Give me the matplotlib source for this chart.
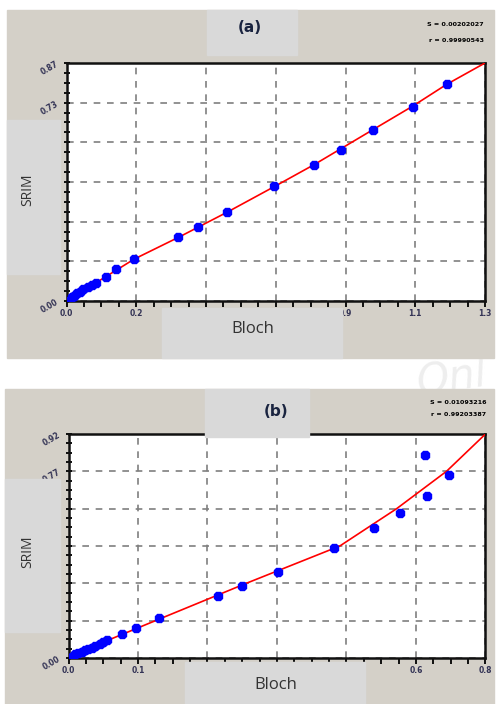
import numpy as np
import matplotlib
matplotlib.use("Agg")
import matplotlib.pyplot as plt
from matplotlib.patches import Rectangle
from matplotlib.ticker import AutoMinorLocator

# panel (a) data
a_x = [0.0056, 0.0162, 0.0242, 0.0317, 0.0419, 0.0522, 0.0677, 0.0783, 0.0907,
       0.1227, 0.1538, 0.2097, 0.347, 0.407, 0.498, 0.645, 0.770, 0.853, 0.953,
       1.075, 1.181]
a_y = [0.0011, 0.0135, 0.0194, 0.0281, 0.034, 0.0439, 0.0523, 0.0585, 0.0647,
       0.0888, 0.1159, 0.1535, 0.235, 0.270, 0.324, 0.420, 0.497, 0.552, 0.625,
       0.710, 0.792]
a_fit_x = [0.0, 0.21, 0.35, 0.498, 0.65, 0.77, 0.953, 1.075, 1.181, 1.3]
a_fit_y = [0.0, 0.153, 0.234, 0.324, 0.421, 0.499, 0.627, 0.712, 0.792, 0.87]
a_xmax, a_ymax = 1.3, 0.87
a_stats = ["S = 0.00202027", "r = 0.99990543"]

# panel (b) data
b_x = [0.0, 0.0058, 0.0117, 0.0176, 0.0237, 0.0297, 0.0356, 0.0417, 0.0477,
       0.0567, 0.0626, 0.0687, 0.0957, 0.1214, 0.1628, 0.2683, 0.3126, 0.376,
       0.478, 0.550, 0.596, 0.641, 0.644, 0.685]
b_y = [0.0, 0.0055, 0.0151, 0.0192, 0.026, 0.0329, 0.037, 0.0425, 0.0507,
       0.0561, 0.0643, 0.0725, 0.0973, 0.122, 0.1655, 0.2559, 0.2957, 0.354,
       0.451, 0.535, 0.594, 0.834, 0.667, 0.752]
b_fit_x = [0.0, 0.07, 0.156, 0.32, 0.488, 0.59, 0.68, 0.75]
b_fit_y = [0.0, 0.072, 0.153, 0.307, 0.46, 0.613, 0.767, 0.92]
b_xmax, b_ymax = 0.75, 0.92
b_stats = ["S = 0.01093216", "r = 0.99203387"]

W, H = 497, 704
BEIGE = "#d4d0c8"
GREY = "#d9d9d9"

fig = plt.figure(figsize=(W / 100, H / 100), dpi=100)
fig.patch.set_facecolor("white")


def frac(l, t, r, b):
    return [l / W, 1 - b / H, (r - l) / W, (b - t) / H]


bg = fig.add_axes([0, 0, 1, 1], zorder=0)
bg.set_xlim(0, W)
bg.set_ylim(H, 0)
bg.axis("off")
bg.text(452, 378, "Onl", fontsize=30, color="#eeeeee", style="italic",
        rotation=8, ha="center", va="center", zorder=1)
bg.add_patch(Rectangle((7, 10), 487, 348, color=BEIGE, zorder=2))
bg.add_patch(Rectangle((5, 389), 489, 315, color=BEIGE, zorder=2))


def panel(box, xs, ys, fx, fy, xmax, ymax):
    ax = fig.add_axes(frac(*box), zorder=1)
    ax.set_facecolor("white")
    ax.grid(True, which="major", color="#7f7f7f", ls=(0, (4, 4)), lw=1.2)
    ax.set_axisbelow(True)
    ax.plot(fx, fy, color="red", lw=1.2, zorder=3)
    ax.plot(xs, ys, ls="none", marker="8", ms=6.8, color="#0000ff", zorder=4)
    ax.set_xlim(0, xmax)
    ax.set_ylim(0, ymax)
    xt = np.linspace(0, xmax, 7)
    yt = np.linspace(0, ymax, 7)
    ax.set_xticks(xt)
    ax.set_xticklabels(["%.1f" % (round(v + 1e-9, 1)) for v in xt])
    ax.set_yticks(yt)
    ax.set_yticklabels(["%.2f" % (round(v + 1e-9, 2)) for v in yt], rotation=30)
    ax.xaxis.set_minor_locator(AutoMinorLocator(4))
    ax.yaxis.set_minor_locator(AutoMinorLocator(4))
    ax.tick_params(axis="x", which="both", direction="out", length=4, width=1.3,
                   labelsize=5.5, pad=2, labelcolor="#333355")
    ax.tick_params(axis="y", which="both", direction="inout", length=5, width=1.3,
                   labelsize=5.5, pad=2, labelcolor="#333355")
    for lab in ax.get_xticklabels() + ax.get_yticklabels():
        lab.set_fontweight("bold")
    for s in ax.spines.values():
        s.set_linewidth(1.8)
        s.set_color("#111111")
    return ax


panel((66.5, 63, 485, 301), a_x, a_y, a_fit_x, a_fit_y, a_xmax, a_ymax)
panel((68.5, 434, 485.5, 658), b_x, b_y, b_fit_x, b_fit_y, b_xmax, b_ymax)

top = fig.add_axes([0, 0, 1, 1], zorder=5)
top.set_xlim(0, W)
top.set_ylim(H, 0)
top.axis("off")
top.patch.set_alpha(0)

# panel (a) labels
top.add_patch(Rectangle((207, 10), 90, 45, color=GREY))
top.text(250, 28, "(a)", fontsize=11, fontweight="bold", color="#1a2440",
         ha="center", va="center")
top.add_patch(Rectangle((7, 120), 53, 154, color=GREY))
top.text(28, 190, "SRIM", fontsize=10, rotation=90, color="#333333",
         ha="center", va="center", family="Open Sans")
top.add_patch(Rectangle((162, 308), 180, 50, color=GREY))
top.text(253, 329, "Bloch", fontsize=12, color="#333333",
         ha="center", va="center", family="Open Sans")
top.text(484, 25, a_stats[0], fontsize=4.6, fontweight="bold", ha="right", va="center")
top.text(484, 40, a_stats[1], fontsize=4.6, fontweight="bold", ha="right", va="center")

# panel (b) labels
top.add_patch(Rectangle((205, 389), 104, 48, color=GREY))
top.text(276, 411, "(b)", fontsize=11, fontweight="bold", color="#1a2440",
         ha="center", va="center")
top.add_patch(Rectangle((5, 479), 55, 153, color=GREY))
top.text(28, 552, "SRIM", fontsize=10, rotation=90, color="#333333",
         ha="center", va="center", family="Open Sans")
top.add_patch(Rectangle((185, 662), 180, 42, color=GREY))
top.text(276, 685, "Bloch", fontsize=12, color="#333333",
         ha="center", va="center", family="Open Sans")
top.text(486, 402, b_stats[0], fontsize=4.6, fontweight="bold", ha="right", va="center")
top.text(486, 414, b_stats[1], fontsize=4.6, fontweight="bold", ha="right", va="center")

fig.savefig("out.png", dpi=100)
